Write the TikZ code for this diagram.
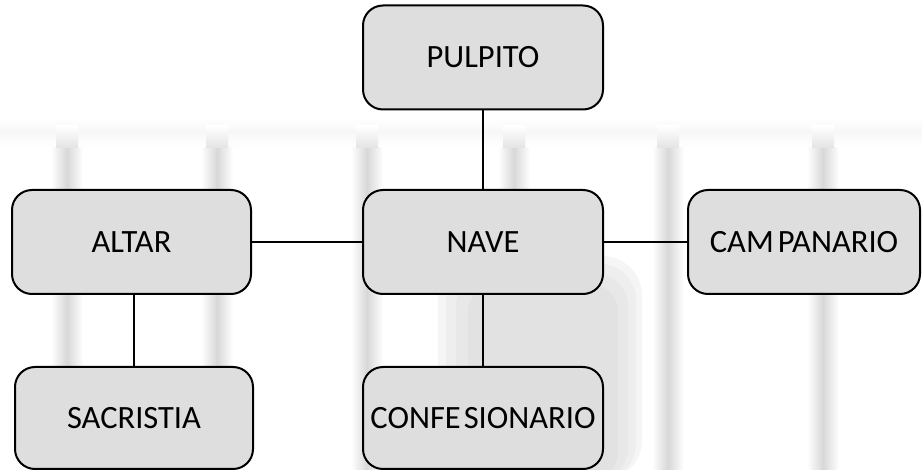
\documentclass[tikz,border=0pt]{standalone}
\usepackage{fontspec}
\setmainfont{Carlito}
\usetikzlibrary{positioning}
\definecolor{boxfill}{HTML}{DEDEDE}
\definecolor{barcol}{HTML}{D8D8D8}
\tikzset{
  entity/.style={draw=black, line width=2pt, fill=boxfill, rounded corners=20pt,
    minimum height=104pt, inner sep=0pt, font=\fontsize{32.5}{38}\selectfont, text=black},
  link/.style={draw=black, line width=2pt},
  barhalfL/.style={left color=white, right color=barcol},
  barhalfR/.style={left color=barcol, right color=white}
}
\begin{document}
\begin{tikzpicture}[x=1pt,y=-1pt]
\useasboundingbox (0,0) rectangle (922,470);
\fill[white] (0,0) rectangle (922,470);
% faint horizontal band
\shade[top color=white, bottom color=gray!6] (0,118) rectangle (922,132);
\shade[top color=gray!6, bottom color=white] (0,132) rectangle (922,148);
% faint vertical bars (background)
\foreach \bx in {67,217,367,514,668,823}{
  \shade[barhalfL] (\bx-16,148) rectangle (\bx,470);
  \shade[barhalfR] (\bx,148) rectangle (\bx+16,470);
  \shade[top color=white, bottom color=barcol!70] (\bx-11,126) rectangle (\bx+11,148);
}
% darker blurred blob
\begin{scope}
  \fill[gray!8, rounded corners=40pt] (438,256) rectangle (642,480);
  \fill[gray!13, rounded corners=36pt] (446,264) rectangle (636,480);
  \fill[gray!18, rounded corners=32pt] (456,274) rectangle (628,480);
  \fill[gray!23, rounded corners=28pt] (468,284) rectangle (618,480);
\end{scope}
% nodes
\node[entity, minimum width=240pt] (pulpito) at (483,57.5) {PULPITO};
\node[entity, minimum width=240pt] (nave) at (483,242) {NAVE};
\node[entity, minimum width=239pt] (altar) at (131.5,242) {ALTAR};
\node[entity, minimum width=232pt] (campanario) at (804,242) {CAM\kern4pt PANARIO};
\node[entity, minimum width=238pt, minimum height=102pt] (sacristia) at (134,418) {SACRISTIA};
\node[entity, minimum width=240pt, minimum height=102pt] (confesionario) at (483,418) {CONFE\kern3pt SIONARIO};
% connectors
\draw[link] (pulpito) -- (nave);
\draw[link] (altar) -- (nave);
\draw[link] (nave) -- (campanario);
\draw[link] (nave) -- (confesionario);
\draw[link] (altar.south) ++(2,0) coordinate (as) -- (as |- sacristia.north);
\end{tikzpicture}
\end{document}
